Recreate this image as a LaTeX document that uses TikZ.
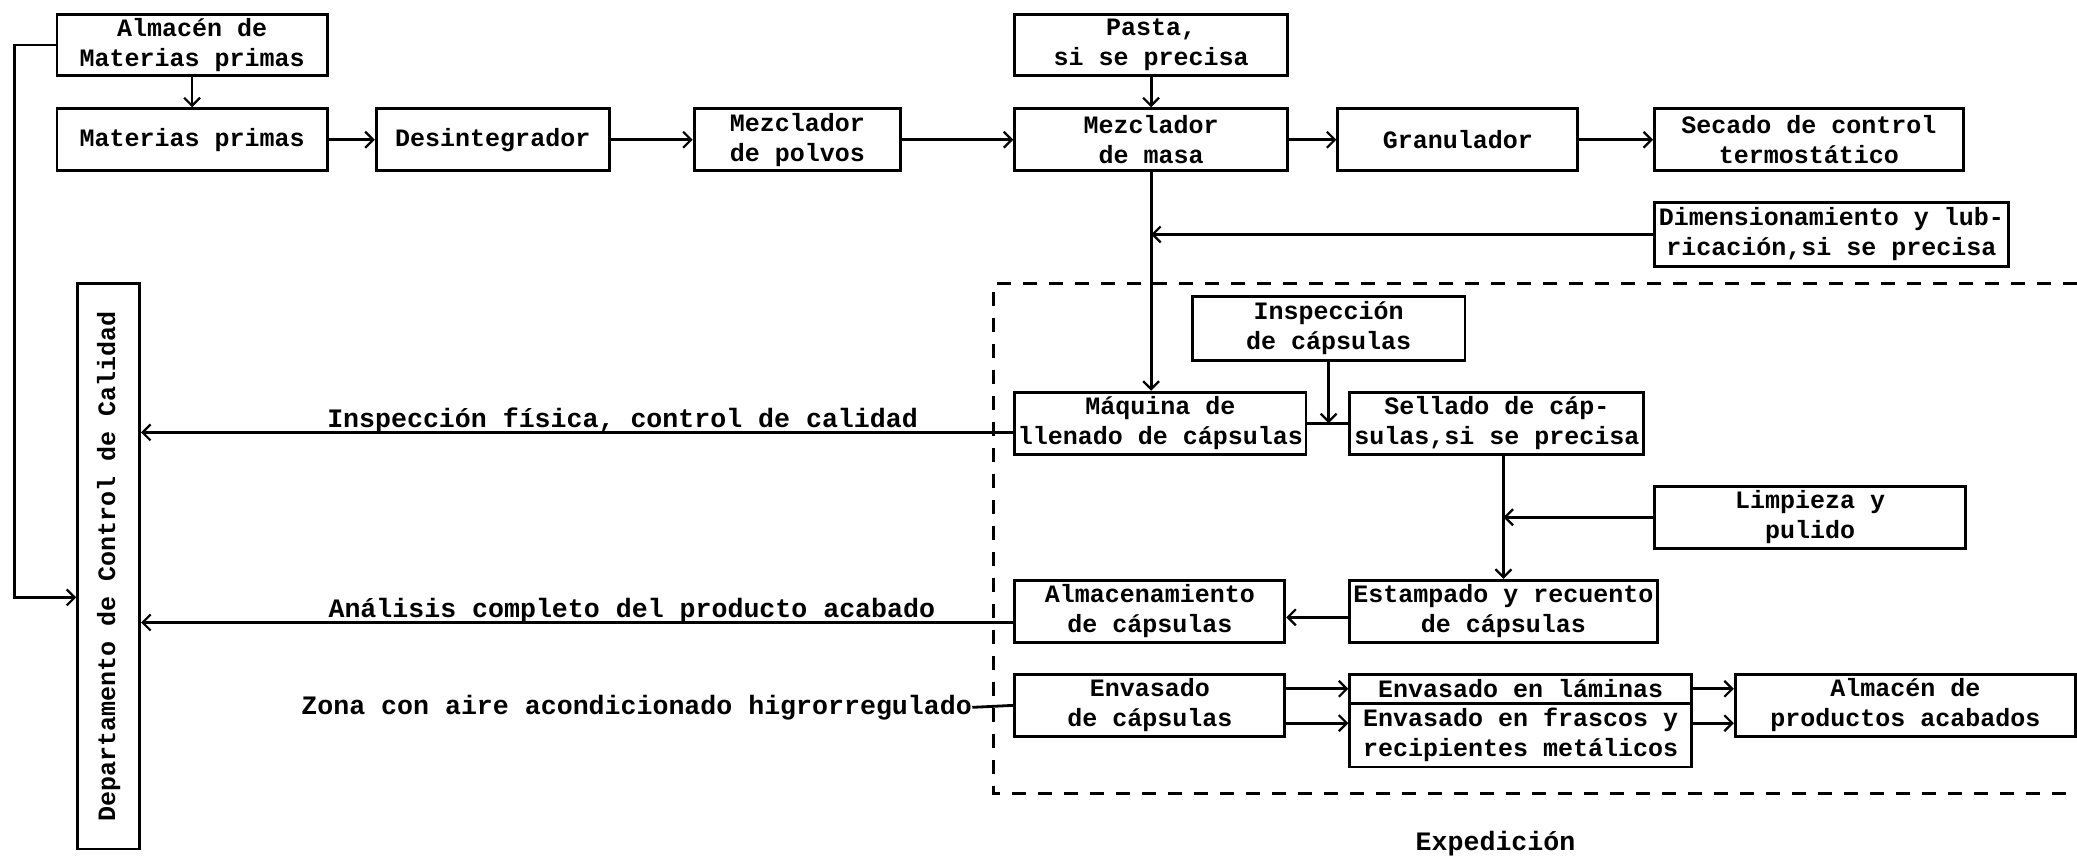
\documentclass[tikz,border=0pt]{standalone}
\usepackage{fontspec}
\setmainfont{Liberation Mono}
\usetikzlibrary{arrows.meta}
\begin{document}
\begin{tikzpicture}[x=0.6623pt,y=-0.6623pt,
  box/.style={draw,line width=1.4pt,inner sep=1pt,align=center,font=\fontsize{12.5}{15}\selectfont\bfseries},
  conn/.style={line width=1.4pt},
  arr/.style={conn,-{Straight Barb[length=4pt,width=8pt,line width=1.1pt]}},
  lbl/.style={inner sep=0pt,font=\fontsize{13.3}{15}\selectfont\bfseries},
  zone/.style={line width=1.1pt,dash pattern=on 7pt off 6pt}]
\useasboundingbox (0,0) rectangle (1568,652);

\node[box,minimum width=135.1pt,minimum height=30.5pt] (alm) at (145,34) {Almacén de\\Materias primas};
\node[box,minimum width=135.1pt,minimum height=31.1pt] (mp) at (145,105.5) {Materias primas};
\node[box,minimum width=116.6pt,minimum height=31.1pt] (des) at (372,105.5) {Desintegrador};
\node[box,minimum width=103.3pt,minimum height=31.1pt] (mpol) at (602,105.5) {Mezclador\\de polvos};
\node[box,minimum width=136.4pt,minimum height=30.5pt] (pasta) at (869,34) {Pasta,\\si se precisa};
\node[box,minimum width=136.4pt,minimum height=31.1pt] (mmasa) at (869,105.5) {Mezclador\\de masa};
\node[box,minimum width=119.9pt,minimum height=31.1pt] (gran) at (1100.5,105.5) {Granulador};
\node[box,minimum width=154.3pt,minimum height=31.1pt] (sec) at (1365.5,105.5) {Secado de control\\termostático};
\node[box,minimum width=176.8pt,minimum height=31.8pt] (dim) at (1382.5,177) {Dimensionamiento y lub-\\ricación,si se precisa};
\node[box,minimum width=136.4pt,minimum height=31.8pt] (insp) at (1003,248) {Inspección\\de cápsulas};
\node[box,minimum width=145.7pt,minimum height=31.1pt] (maq) at (876,319.5) {Máquina de\\llenado de cápsulas};
\node[box,minimum width=147.0pt,minimum height=31.1pt] (sell) at (1130,319.5) {Sellado de cáp-\\sulas,si se precisa};
\node[box,minimum width=155.6pt,minimum height=31.1pt] (limp) at (1366.5,390.5) {Limpieza y\\pulido};
\node[box,minimum width=135.1pt,minimum height=31.1pt] (almc) at (868,461.5) {Almacenamiento\\de cápsulas};
\node[box,minimum width=153.7pt,minimum height=31.1pt] (est) at (1135,461.5) {Estampado y recuento\\de cápsulas};
\node[box,minimum width=135.1pt,minimum height=31.1pt] (envc) at (868,532.5) {Envasado\\de cápsulas};
\node[box,minimum width=170.9pt,minimum height=14.6pt,inner sep=0pt] (lam) at (1148,520) {Envasado en láminas};
\node[box,minimum width=170.9pt,minimum height=31.8pt] (fra) at (1148,555) {Envasado en frascos y\\recipientes metálicos};
\node[box,minimum width=170.2pt,minimum height=31.1pt] (almp) at (1438.5,532.5) {Almacén de\\productos acabados};
\node[box,minimum width=31pt,minimum height=282.8pt] (dep) at (82,427.5) {\rotatebox{90}{Departamento de Control de Calidad}};

\node[lbl,anchor=base] (l1) at (470,323) {Inspección física, control de calidad};
\node[lbl,anchor=base] (l2) at (477,466) {Análisis completo del producto acabado};
\node[lbl,anchor=east] (l3) at (734,534) {Zona con aire acondicionado higrorregulado};
\node[lbl] (l4) at (1129,637) {Expedición};

% zone boundary
\coordinate (z1) at (1568,214);
\coordinate (z2) at (750,214);
\coordinate (z3) at (750,599);
\coordinate (z4) at (1568,599);
\draw[zone] (z1) -- (z2) -- (z3) -- (z4);

% top row
\draw[arr] (alm) -- (mp);
\draw[arr] (mp) -- (des);
\draw[arr] (des) -- (mpol);
\draw[arr] (mpol) -- (mmasa);
\draw[arr] (mmasa) -- (gran);
\draw[arr] (gran) -- (sec);
\draw[arr] (pasta) -- (mmasa);
\draw[arr] (mmasa.south) -- (mmasa.south |- maq.north);
\draw[arr] (dim.west) -- (dim.west -| mmasa.south);

% quality department
\coordinate (hk) at (11,451);
\draw[arr] (alm.west) -| (hk) -- (dep.west |- hk);
\coordinate (q1) at ([yshift=-4.6pt]maq.west);
\draw[arr] (q1) -- (dep.east |- q1);
\coordinate (q2) at ([yshift=-5.6pt]almc.west);
\draw[arr] (q2) -- (dep.east |- q2);
\draw[conn] (l3.east) -- (envc.west);

% capsule line
\draw[conn] (maq.east) -- (sell.west);
\draw[arr] (insp.south) -- (insp.south |- maq.east);
\draw[arr] (sell.south -| est.north) -- (est.north);
\draw[arr] (limp.west) -- (limp.west -| est.north);
\coordinate (e1) at ([yshift=-3pt]est.west);
\draw[arr] (e1) -- (almc.east |- e1);
\draw[arr] (envc.east |- lam.west) -- (lam.west);
\coordinate (f1) at ([yshift=6pt]fra.west);
\draw[arr] (envc.east |- f1) -- (f1);
\draw[arr] (lam.east) -- (lam.east -| almp.west);
\coordinate (f2) at ([yshift=6pt]fra.east);
\draw[arr] (f2) -- (f2 -| almp.west);
\end{tikzpicture}
\end{document}
